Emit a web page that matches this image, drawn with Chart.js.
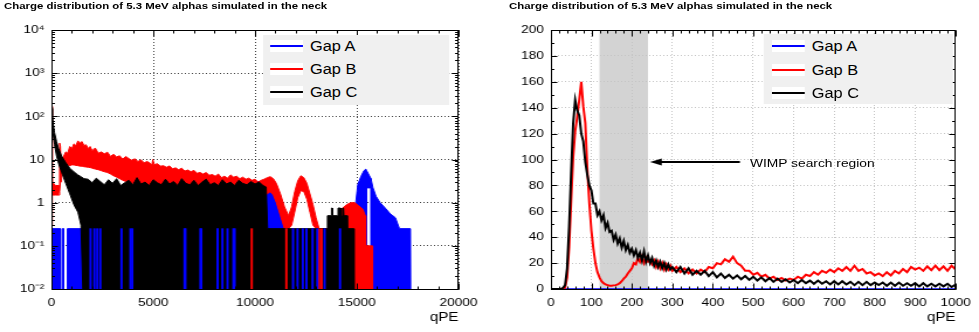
<!DOCTYPE html>
<html><head><meta charset="utf-8">
<script src="https://cdn.jsdelivr.net/npm/chart.js@4.4.1/dist/chart.umd.min.js"></script>
<style>
html,body{margin:0;padding:0;background:#fff;}
body{width:979px;height:332px;position:relative;overflow:hidden;font-family:"Liberation Sans",Arial,Helvetica,sans-serif;color:#000;}
#wrap{position:absolute;left:0;top:0;width:837px;height:332px;transform:scaleX(1.16965);transform-origin:0 0;}
canvas{position:absolute;top:0;}
.title{position:absolute;top:0;font-weight:bold;font-size:9.75px;line-height:12px;white-space:nowrap;}
.legend{position:absolute;background:#f0f0f0;}
.legend .row{position:absolute;left:0;right:0;height:20px;}
.legend .sw{position:absolute;top:4px;height:12px;background:#fff;}
.legend .ln{position:absolute;left:0;right:0;top:5px;height:2px;}
.legend .lbl{position:absolute;top:0;font-size:14px;line-height:20px;white-space:nowrap;}
#wimp{position:absolute;left:641.2px;top:155.5px;font-size:11.8px;line-height:14px;white-space:nowrap;}
</style></head><body>
<div id="wrap">
  <div class="title" id="t1" style="left:3.4px"></div>
  <div class="title" id="t2" style="left:435.2px"></div>
  <canvas id="cl" width="418" height="332" style="left:0;width:418px;height:332px"></canvas>
  <canvas id="cr" width="417" height="332" style="left:420px;width:417px;height:332px"></canvas>
  <div class="legend" id="lg1" style="left:224.6px;top:35px;width:159.3px;height:70px"></div>
  <div class="legend" id="lg2" style="left:653.2px;top:34px;width:161px;height:70px"></div>
  <div id="wimp"></div>
</div>
<script>
// ---------------- data ----------------
const chartTitle = 'Charge distribution of 5.3 MeV alphas simulated in the neck';
const seriesNames = ['Gap A', 'Gap B', 'Gap C'];
const seriesColors = ['#0000ff', '#ff0000', '#000000'];
const xAxisTitle = 'qPE';
const wimpLabel = 'WIMP search region';
const wimpRegion = [120, 240];

const leftXTicks = [0, 5000, 10000, 15000, 20000];
const leftYTicks = [0.01, 0.1, 1, 10, 100, 1000, 10000];
const leftYLabels = ['10\u207B\u00B2', '10\u207B\u00B9', '1', '10', '10\u00B2', '10\u00B3', '10\u2074'];
const rightXTicks = [0, 100, 200, 300, 400, 500, 600, 700, 800, 900, 1000];
const rightYTicks = [0, 20, 40, 60, 80, 100, 120, 140, 160, 180, 200];

// Left panel (log scale): envelope of each noisy histogram, rows of [qPE, upper, lower]
const gapCLeft = [
  [0,160,150],[40,105,60],[80,70,38],[150,42,22],[250,26,12],[350,18,8],[500,12,5],[700,8.5,2.8],
  [900,6.3,1.6],[1100,5.2,0.9],[1300,4.4,0.6],[1450,4.0,0.3],[1600,3.6,0],[1800,3.5,0],[2000,2.9,0],
  [2200,3.7,0],[2400,3.1,0],[2600,2.6,0],[2800,3.4,0],[3000,2.8,0],[3200,3.6,0],[3400,2.5,0],[3600,2.9,0],
  [3800,3.3,0],[4000,2.6,0],[4200,3.8,0],[4400,2.7,0],[4600,3.0,0],[4800,2.5,0],[5000,3.4,0],[5200,2.9,0],
  [5400,2.6,0],[5600,3.5,0],[5800,2.7,0],[6000,3.1,0],[6200,2.5,0],[6400,3.6,0],[6600,2.8,0],[6800,2.6,0],
  [7000,3.3,0],[7200,2.5,0],[7400,3.0,0],[7600,3.5,0],[7800,2.6,0],[8000,2.9,0],[8200,2.5,0],[8400,3.4,0],
  [8600,2.7,0],[8800,3.0,0],[9000,2.5,0],[9200,3.3,0],[9400,2.8,0],[9600,2.6,0],[9800,3.1,0],[10000,2.7,0],
  [10200,3.0,0],[10400,2.5,0],[10550,2.3,0],[10620,0.25,0],[13540,0.25,0],[13560,0.5,0],[13740,0.5,0],
  [13760,0.75,0],[13800,0.75,0],[13820,0.5,0],[14060,0.5,0],[14080,0.75,0],[14200,0.75,0],[14220,0.5,0],
  [14280,0.5,0],[14300,0.75,0],[14350,0.75,0],[14370,0.5,0],[14520,0.5,0],[14540,0.25,0],[14850,0.25,0],
  [14870,0,0]
];
const gapBLeft = [
  [0,170,0.3],[30,140,0.3],[50,3,1.5],[200,2.5,1.5],[360,2.5,1.5],[400,24,1.8],[440,20,3],[480,6,3],
  [520,9,5],[600,12,6],[700,15,7],[800,14,7.5],[900,20,7.2],[1000,18,7.5],[1100,23,7.5],[1200,21,7.3],
  [1300,27,7.2],[1400,24,7],[1500,26,7],[1600,21,6.8],[1700,22,6.7],[1800,18,6.6],[1900,20,6.5],
  [2000,16,6.3],[2150,18.5,6],[2300,14,5.8],[2450,15,5.5],[2600,13.5,5.2],[2750,14.8,5],[2900,11.8,4.6],
  [3050,13.2,4.2],[3200,11.5,3.9],[3350,12.2,3.6],[3500,10.2,3.3],[3650,11.8,3.1],[3800,10.5,2.9],
  [3950,9.6,2.8],[4100,10.4,2.6],[4250,9.0,2.5],[4400,9.8,2.5],[4550,8.4,2.4],[4700,9.0,2.4],[4850,8.2,2.3],
  [4930,7.4,2.3],[4980,10,2.3],[5050,7.6,2.3],[5200,8.0,2.2],[5350,7.0,2.2],[5500,7.2,2.2],[5650,6.6,2.2],
  [5800,7.1,2.1],[5950,6.1,2.1],[6100,6.4,2.1],[6250,5.8,2.1],[6400,6.3,2.1],[6550,5.4,2],[6700,5.7,2],
  [6850,5.2,2],[7000,5.6,2],[7150,4.8,2],[7300,5.0,2],[7450,4.6,2],[7600,5.0,2],[7750,4.3,2],[7900,4.5,2],
  [8050,4.1,2],[8200,4.6,2],[8350,3.8,2],[8500,4.1,2],[8650,3.7,2],[8800,4.4,2],[8950,3.9,2],[9100,4.1,2],
  [9250,3.6,2],[9400,3.9,2],[9550,3.5,1.9],[9700,3.7,1.9],[9850,3.3,1.8],[10000,3.5,1.8],[10150,3.0,1.6],
  [10300,3.3,1.5],[10450,3.5,1.5],[10600,3.8,1.6],[10750,4.0,1.8],[10900,3.6,1.5],[11050,2.8,1.0],
  [11250,1.6,0.5],[11450,0.8,0.25],[11650,0.5,0.25],[11800,0.8,0.3],[11950,1.8,0.6],[12100,3.2,1.3],
  [12250,4.2,1.9],[12400,3.8,1.8],[12550,2.8,1.2],[12700,1.6,0.6],[12850,0.9,0.3],[13000,0.45,0.25],
  [13150,0.25,0.25],[14100,0.25,0.25],[14150,0.5,0],[14300,0.75,0],[14500,0.9,0],[14700,1.0,0],
  [14900,1.0,0],[15100,0.85,0],[15300,0.7,0],[15420,0.5,0],[15440,0.1,0],[15760,0.1,0],[15780,0,0]
];
const gapALeft = [
  [0,0.25,0],[430,0.25,0],[440,0,0],[520,0,0],[530,0.25,0],[590,0.25,0],[600,0,0],[770,0,0],[780,0.25,0],
  [1700,0.25,0],[1720,0,0],[9150,0,0],[9200,2.6,0],[9400,3.2,0],[9600,2.8,0],[9800,3.3,0],[10000,3.0,0],
  [10200,3.1,0],[10400,2.7,0],[10600,2.9,0],[10800,2.2,0],[11000,1.3,0],[11200,0.8,0],[11400,0.5,0],
  [11500,0.25,0],[11520,0,0],[14840,0,0],[14850,0.25,0],[14950,1.0,0],[15050,2.6,0],[15200,4.0,0],
  [15350,5.5,0],[15450,6.0,0],[15480,5.6,0],[15490,5.6,2.2],[15700,3.6,2.2],[15710,3.4,0],[15800,2.2,0],
  [15950,1.4,0],[16150,1.0,0],[16400,0.75,0],[16650,0.55,0],[16900,0.45,0],[17100,0.25,0],[17640,0.25,0],
  [17660,0,0]
];
// isolated single-entry bins (weight 0.25) seen as thin stripes
const stripeValue = 0.25;
const gapAStripesLeft = [1920, 2110, 2250, 2400, 3440, 3880, 3970, 6540, 6580, 7320, 7360, 8160, 8400, 8650,
  8940, 9000, 11870, 12090, 12350, 12530, 12830, 13060, 13420, 14180];
const gapBStripesLeft = [9840, 11540, 13150, 13270];

// Right panel (linear): histogram contents per bin
const rightX = [
  0,5,10,15,20,25,30,35,40,45, 50,55,60,65,70,75,80,85,90,95,
  100,105,110,115,120,125,130,135,140,145, 150,155,160,165,170,175,180,185,190,195,
  200,205,210,215,220,225,230,235,240,245, 250,255,260,265,270,275,280,285,290,295, 300,
  310,320,330,340,350,360,370,380,390,400, 410,420,430,440,450,460,470,480,490,500,
  510,520,530,540,550,560,570,580,590,600, 610,620,630,640,650,660,670,680,690,700,
  710,720,730,740,750,760,770,780,790,800, 810,820,830,840,850,860,870,880,890,900,
  910,920,930,940,950,960,970,980,990,1000
];
const gapCRight = [
  0,0,0,0,0,0,1,3,16,48, 90,128,146,138,134,120,114,98,88,80,
  76,66,66,57,60,53,57,47,51,44, 45,38,42,35,39,32,37,30,34,28,
  31,26,30,24,28,22,29,21,26,20, 24,18,22,17,21,16,20,15,19,15, 17,
  13,17,12,16,11,14,11,14,10,13, 9,12,8.5,11,8,10.5,7.5,10,7,9.5,
  6.5,9,6,8.5,5.5,8,5.5,7.5,5,7, 4.5,7,4.5,6.5,4,6.5,4,6,3.5,6,
  3.5,6,3.5,5.5,3,5.5,3,5.5,3,5, 3,5,2.5,5,2.5,5,2.5,4.5,2.5,4.5,
  2,4.5,2,4,2,4,2,4,1.5,3.5
];
const gapBRight = [
  0,0,0,0,0,0,0.5,1,9,32, 68,102,122,133,146,160,141,128,92,66,
  45,31,20,13,9,6,4.5,3.5,3,2.5, 2.5,2.8,3,3.5,4.5,6,8,9.5,12,14,
  16,20,19,24,21,25,20,24,21,22, 19,22,17,21,16,20,15,19,15,18, 14,
  17,13,16,12,15,12,15,13,17,16, 20,19,23,21,25,20,18,14,14,11,
  12.5,9.5,11,8,9.5,7,8.5,6.5,8,7, 9.5,8,11,10,13,11,14,12.5,15,13,
  16,14,17,14,18,14,15.5,12,13,10.5, 12,10,13,10.5,14,12,15.5,13,17,15,
  16.5,14,17.5,14.5,18,14.5,17.5,14,18,15
];
const gapARightX = [0, 1000];
const gapARight = [0, 0];

// ---------------- text ----------------
document.getElementById('t1').textContent = chartTitle;
document.getElementById('t2').textContent = chartTitle;
document.getElementById('wimp').textContent = wimpLabel;
function buildLegend(id, rowTops, swLeft, swW, txtLeft) {
  const el = document.getElementById(id);
  seriesNames.forEach((n, i) => {
    const row = document.createElement('div'); row.className = 'row'; row.style.top = rowTops[i] + 'px';
    const sw = document.createElement('div'); sw.className = 'sw'; sw.style.left = swLeft + 'px'; sw.style.width = swW + 'px';
    const ln = document.createElement('div'); ln.className = 'ln'; ln.style.backgroundColor = seriesColors[i]; sw.appendChild(ln);
    const lb = document.createElement('div'); lb.className = 'lbl'; lb.style.left = txtLeft + 'px'; lb.textContent = n;
    row.appendChild(sw); row.appendChild(lb); el.appendChild(row);
  });
}
buildLegend('lg1', [1, 24, 47], 6.2, 28, 40.4);
buildLegend('lg2', [2, 26, 49], 6.6, 27.8, 40.8);

// ---------------- chart helpers ----------------
Chart.defaults.font.family = '"Liberation Sans", Arial, Helvetica, sans-serif';
Chart.defaults.color = '#000';
const LOG_FLOOR = 1e-3; // empty bins drawn below the frame, as ROOT does on log axes
const toLog = v => (v > 0 ? v : LOG_FLOOR);
const range = (a, b, s) => { const o = []; for (let v = a; v <= b + 1e-9; v += s) o.push(+v.toFixed(6)); return o; };

const rootFrame = {
  id: 'rootFrame',
  beforeDraw(chart, _a, o) {
    if (!o.band) return;
    const {ctx, chartArea: a, scales: {x}} = chart;
    const x0 = x.getPixelForValue(o.band[0]), x1 = x.getPixelForValue(o.band[1]);
    ctx.save(); ctx.fillStyle = o.bandColor; ctx.fillRect(x0, a.top, x1 - x0, a.bottom - a.top); ctx.restore();
  },
  afterDatasetsDraw(chart, _a, o) {
    const {ctx, chartArea: a, scales: {x, y}} = chart;
    ctx.save();
    if (o.arrow) {
      const fx = x.getPixelForValue(o.arrow.from[0]), fy = y.getPixelForValue(o.arrow.from[1]);
      const tx = x.getPixelForValue(o.arrow.to[0]), ty = y.getPixelForValue(o.arrow.to[1]);
      ctx.strokeStyle = '#000'; ctx.fillStyle = '#000'; ctx.lineWidth = 2;
      ctx.beginPath(); ctx.moveTo(fx, fy); ctx.lineTo(tx + o.arrow.head - 1, ty); ctx.stroke();
      ctx.beginPath(); ctx.moveTo(tx, ty); ctx.lineTo(tx + o.arrow.head, ty - o.arrow.half);
      ctx.lineTo(tx + o.arrow.head, ty + o.arrow.half); ctx.closePath(); ctx.fill();
    }
    ctx.strokeStyle = '#000'; ctx.lineWidth = 1;
    const L = Math.round(a.left) + 0.5, R = Math.round(a.right) - 0.5, T = Math.round(a.top) + 0.5, B = Math.round(a.bottom) + 0.5;
    ctx.beginPath();
    const tx = (vals, len) => vals.forEach(v => { const p = Math.round(x.getPixelForValue(v)) + 0.5; ctx.moveTo(p, B); ctx.lineTo(p, B - len); ctx.moveTo(p, T); ctx.lineTo(p, T + len); });
    const ty = (vals, len) => vals.forEach(v => { const p = Math.round(y.getPixelForValue(v)) + 0.5; ctx.moveTo(L, p); ctx.lineTo(L + len, p); ctx.moveTo(R, p); ctx.lineTo(R - len, p); });
    tx(o.xMajor, 6); tx(o.xMinor, 3); ty(o.yMajor, 5); ty(o.yMinor, 2.5);
    ctx.stroke();
    ctx.strokeRect(L, T, R - L, B - T);
    ctx.restore();
  }
};

function bandSets(rows, color, order) {
  return [
    {type: 'line', data: rows.map(r => ({x: r[0], y: toLog(r[1])})), borderColor: color, backgroundColor: color,
     borderWidth: 1, pointRadius: 0, tension: 0, fill: '+1', order},
    {type: 'line', data: rows.map(r => ({x: r[0], y: toLog(r[2])})), borderColor: color, backgroundColor: color,
     borderWidth: 1, pointRadius: 0, tension: 0, fill: false, order}
  ];
}
function stripeSet(xs, color) {
  return {type: 'bar', data: xs.map(v => ({x: v, y: stripeValue})), backgroundColor: color, borderWidth: 0,
          barThickness: 1.3, grouped: false, order: 0};
}
const tickFont = {size: 11.7};
function xScale(min, max, ticks, gridColor) {
  return {
    type: 'linear', min, max, offset: false,
    afterBuildTicks: s => { s.ticks = ticks.map(v => ({value: v})); },
    afterFit: s => { s.height = 43; },
    ticks: {autoSkip: false, maxRotation: 0, padding: 7, font: tickFont, color: '#000', callback: v => String(v)},
    grid: {drawTicks: false, offset: false, color: gridColor, lineWidth: 1},
    border: {display: false, dash: [1, 2]},
    title: {display: true, text: xAxisTitle, align: 'end', font: {size: 13}, color: '#000', padding: {top: 0, bottom: 6.7}}
  };
}

// ---------------- left chart (log) ----------------
const leftDatasets = [
  ...bandSets(gapCLeft, seriesColors[2], 2),
  ...bandSets(gapBLeft, seriesColors[1], 3),
  ...bandSets(gapALeft, seriesColors[0], 4),
  stripeSet(gapAStripesLeft, seriesColors[0]),
  stripeSet(gapBStripesLeft, seriesColors[1])
];
const leftMinorY = [];
[0.01, 0.1, 1, 10, 100, 1000].forEach(d => { for (let k = 2; k <= 9; k++) leftMinorY.push(d * k); });
new Chart(document.getElementById('cl'), {
  type: 'line',
  data: {datasets: leftDatasets},
  options: {
    responsive: false, animation: false, devicePixelRatio: 1,
    layout: {padding: {left: 0, top: 30, right: 26, bottom: 0}},
    plugins: {
      legend: {display: false}, tooltip: {enabled: false},
      rootFrame: {xMajor: leftXTicks, xMinor: range(0, 20000, 1000), yMajor: leftYTicks, yMinor: leftMinorY}
    },
    scales: {
      x: xScale(0, 20000, leftXTicks, 'rgba(0,0,0,0.75)'),
      y: {
        type: 'logarithmic', min: 0.01, max: 10000,
        afterBuildTicks: s => { s.ticks = leftYTicks.map(v => ({value: v})); },
        afterFit: s => { s.width = 44; },
        ticks: {autoSkip: false, padding: 6, font: tickFont, color: '#000', callback: (v, i) => leftYLabels[i]},
        grid: {drawTicks: false, color: 'rgba(0,0,0,0.75)', lineWidth: 1},
        border: {display: false, dash: [1, 2]}
      }
    }
  },
  plugins: [rootFrame]
});

// ---------------- right chart (linear) ----------------
const lineSet = (xs, ys, color, order, w) => ({
  type: 'line', data: xs.map((v, i) => ({x: v, y: ys[i]})), borderColor: color, backgroundColor: color,
  borderWidth: w, pointRadius: 0, tension: 0, fill: false, order
});
new Chart(document.getElementById('cr'), {
  type: 'line',
  data: {datasets: [
    lineSet(rightX, gapCRight, seriesColors[2], 1, 2),
    lineSet(rightX, gapBRight, seriesColors[1], 2, 2),
    lineSet(gapARightX, gapARight, seriesColors[0], 3, 1.6)
  ]},
  options: {
    responsive: false, animation: false, devicePixelRatio: 1,
    layout: {padding: {left: 0, top: 30, right: 16, bottom: 0}},
    plugins: {
      legend: {display: false}, tooltip: {enabled: false},
      rootFrame: {xMajor: rightXTicks, xMinor: range(0, 1000, 20), yMajor: rightYTicks, yMinor: range(0, 200, 10),
        band: wimpRegion, bandColor: '#d3d3d3',
        arrow: {from: [467, 98], to: [245, 98], head: 10, half: 3.5}}
    },
    scales: {
      x: xScale(0, 1000, rightXTicks, '#c4c4c4'),
      y: {
        type: 'linear', min: 0, max: 200,
        afterBuildTicks: s => { s.ticks = rightYTicks.map(v => ({value: v})); },
        afterFit: s => { s.width = 51; },
        ticks: {autoSkip: false, padding: 6, font: tickFont, color: '#000', callback: v => String(v)},
        grid: {drawTicks: false, color: '#c4c4c4', lineWidth: 1},
        border: {display: false, dash: [1, 2]}
      }
    }
  },
  plugins: [rootFrame]
});
</script>
</body></html>
